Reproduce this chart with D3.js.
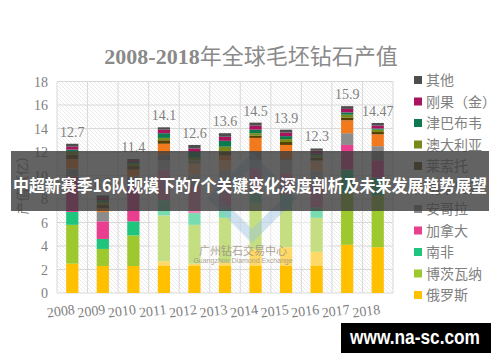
<!DOCTYPE html>
<html>
<head>
<meta charset="utf-8">
<script src="https://cdn.jsdelivr.net/npm/d3@7"></script>
<style>
body{margin:0;background:#fff;}
svg{display:block;}
</style>
</head>
<body>
<script>
// categories and labels
let years = ["2008","2009","2010","2011","2012","2013","2014","2015","2016","2017","2018"];
let totalLabels = ["12.7","8.3","11.4","14.1","12.6","13.6","14.5","13.9","12.3","15.9","14.47"];
let yTicks = [0, 2, 4, 6, 8, 10, 12, 14, 16, 18];
let countries = ["俄罗斯","博茨瓦纳","南非","加拿大","安哥拉","纳米比亚","莱索托","澳大利亚","津巴布韦","刚果（金）","其他"];

// series values, one per country (bottom of stack first)
let russia      = [2.5, 2.3, 2.3, 2.7, 2.5, 2.6, 3.7, 3.9, 3.5, 4.1, 3.9];
let botswana    = [3.3, 1.45, 2.6, 3.9, 3.3, 3.8, 3.9, 3.2, 2.9, 4.4, 4.4];
let southAfrica = [1.1, 0.85, 1.2, 1.3, 1.0, 0.9, 1.1, 1.3, 0.9, 2.0, 1.5];
let canada      = [3.0, 1.5, 2.9, 2.6, 2.3, 2.1, 2.0, 1.8, 2.0, 2.1, 1.5];
let angola      = [0.7, 0.8, 0.9, 1.3, 1.0, 1.1, 1.3, 1.2, 1.1, 1.0, 1.2];
let namibia     = [0.8, 0.3, 0.6, 0.9, 0.9, 1.2, 1.2, 1.2, 0.8, 1.1, 1.0];
let lesotho     = [0.35, 0.3, 0.3, 0.3, 0.3, 0.35, 0.2, 0.25, 0.3, 0.24, 0.2];
let australia   = [0.3, 0.25, 0.2, 0.2, 0.2, 0.4, 0.2, 0.25, 0.2, 0.23, 0.2];
let zimbabwe    = [0.15, 0.15, 0.15, 0.4, 0.5, 0.5, 0.3, 0.25, 0.15, 0.2, 0.1];
let drc         = [0.25, 0.2, 0.15, 0.3, 0.3, 0.35, 0.35, 0.3, 0.25, 0.3, 0.25];
let other       = [0.25, 0.2, 0.1, 0.2, 0.3, 0.3, 0.25, 0.25, 0.2, 0.23, 0.22];

let seriesValues = [russia, botswana, southAfrica, canada, angola, namibia, lesotho, australia, zimbabwe, drc, other];
let colours = ["#ffc000","#9dc82e","#1fc57d","#ea3e8f","#8c8c8c","#f27a1e","#5a4000","#7a8a1a","#0c7a4e","#a8145e","#4d4d4d"];

let width = 500, height = 362;
let plotLeft = 57, plotRight = 393, plotTop = 81.5, plotBottom = 293;

let svg = d3.select("body").append("svg")
	.attr("width", width)
	.attr("height", height);

// rows for the stack
let table = years.map((yr, i) => {
	let row = {year: yr};
	countries.forEach((c, j) => row[c] = seriesValues[j][i]);
	return row;
});
let stacked = d3.stack().keys(countries)(table);

let x = d3.scaleBand().domain(years).range([plotLeft, plotRight]).paddingInner(0.6).paddingOuter(0.3);
let y = d3.scaleLinear().domain([0, 18]).range([plotBottom, plotTop]);
let colour = d3.scaleOrdinal().domain(countries).range(colours);

// hatch pattern for the plot area
let defs = svg.append("defs");
let pat = defs.append("pattern")
	.attr("id", "hatch")
	.attr("patternUnits", "userSpaceOnUse")
	.attr("width", 4).attr("height", 4);
pat.append("path")
	.attr("d", "M-1,-1 L5,5 M3,-1 L5,1 M-1,3 L1,5")
	.attr("stroke", "#e4e4e4")
	.attr("stroke-width", 0.8);

svg.append("rect")
	.attr("x", plotLeft).attr("y", plotTop)
	.attr("width", plotRight - plotLeft).attr("height", plotBottom - plotTop)
	.attr("fill", "url(#hatch)");

// grid lines
svg.append("g")
	.selectAll("line")
	.data(yTicks)
	.join("line")
	.attr("x1", plotLeft).attr("x2", plotRight)
	.attr("y1", d => y(d)).attr("y2", d => y(d))
	.attr("stroke", "#d9d9d9");

let step = x.step();
let vLines = d3.range(years.length + 1).map(i => plotLeft + i * step);
svg.append("g")
	.selectAll("line")
	.data(vLines)
	.join("line")
	.attr("x1", d => d).attr("x2", d => d)
	.attr("y1", plotTop).attr("y2", plotBottom)
	.attr("stroke", "#d9d9d9");

// title
let title = svg.append("text")
	.attr("x", 251).attr("y", 64)
	.attr("text-anchor", "middle")
	.attr("fill", "#8a8a8a")
	.attr("font-size", 22);
title.append("tspan")
	.attr("font-family", "Liberation Serif, serif")
	.attr("font-weight", "bold")
	.text("2008-2018");
title.append("tspan")
	.attr("font-family", "Noto Sans CJK SC")
	.text("年全球毛坯钻石产值");

// y tick labels
svg.append("g")
	.selectAll("text")
	.data(yTicks)
	.join("text")
	.attr("x", 48)
	.attr("y", d => y(d) + 5)
	.attr("text-anchor", "end")
	.attr("font-family", "Liberation Serif, serif")
	.attr("font-size", 14)
	.attr("fill", "#7f7f7f")
	.text(d => d);

// y axis title
svg.append("text")
	.attr("transform", "translate(27,182) rotate(-90)")
	.attr("text-anchor", "middle")
	.attr("font-family", "Noto Sans CJK SC")
	.attr("font-size", 13)
	.attr("fill", "#7f7f7f")
	.text("产值（亿）");

// x tick labels, slightly tilted
svg.append("g")
	.selectAll("text")
	.data(years)
	.join("text")
	.attr("transform", d => `translate(${x(d) + x.bandwidth() / 2 + 3},314) rotate(-7)`)
	.attr("text-anchor", "end")
	.attr("font-family", "Liberation Serif, serif")
	.attr("font-size", 14)
	.attr("fill", "#7f7f7f")
	.text(d => d);

// stacked bars
svg.append("g")
	.selectAll("g")
	.data(stacked)
	.join("g")
	.attr("fill", d => colour(d.key))
	.selectAll("rect")
	.data(d => d)
	.join("rect")
	.attr("x", d => x(d.data.year))
	.attr("y", d => y(d[1]))
	.attr("width", x.bandwidth())
	.attr("height", d => y(d[0]) - y(d[1]));

// total labels
let tops = stacked[stacked.length - 1];
svg.append("g")
	.selectAll("text")
	.data(tops)
	.join("text")
	.attr("x", d => x(d.data.year) + x.bandwidth() / 2)
	.attr("y", d => y(d[1]) - 7)
	.attr("text-anchor", "middle")
	.attr("font-family", "Liberation Serif, serif")
	.attr("font-size", 14)
	.attr("fill", "#7f7f7f")
	.text((d, i) => totalLabels[i]);

// legend (top of stack first)
let legendItems = countries.slice().reverse();
let legend = svg.append("g")
	.selectAll("g")
	.data(legendItems)
	.join("g")
	.attr("transform", (d, i) => `translate(414,${80 + i * 21.5})`);
legend.append("rect")
	.attr("x", 0).attr("y", -4)
	.attr("width", 8).attr("height", 8)
	.attr("fill", d => colour(d));
legend.append("text")
	.attr("x", 12).attr("y", 5)
	.attr("font-family", "Noto Sans CJK SC")
	.attr("font-size", 14)
	.attr("fill", "#808080")
	.text(d => d);

// faint exchange watermark over the middle of the plot
let wm = svg.append("g");
wm.append("rect")
	.attr("x", 150).attr("y", 160)
	.attr("width", 180).attr("height", 106)
	.attr("fill", "#fff")
	.attr("opacity", 0.4);
wm.append("path")
	.attr("d", "M252,160 L290,198 L252,236 L214,198 Z")
	.attr("fill", "none")
	.attr("stroke", "#9cc3e0")
	.attr("stroke-width", 10)
	.attr("opacity", 0.45);
wm.append("text")
	.attr("x", 243).attr("y", 255)
	.attr("text-anchor", "middle")
	.attr("font-family", "Noto Sans CJK SC")
	.attr("font-size", 11)
	.attr("fill", "#9a8f80")
	.attr("opacity", 0.8)
	.text("广州钻石交易中心");
wm.append("text")
	.attr("x", 243).attr("y", 263)
	.attr("text-anchor", "middle")
	.attr("font-family", "Liberation Sans, sans-serif")
	.attr("font-size", 7)
	.attr("fill", "#9a8f80")
	.attr("opacity", 0.8)
	.text("Guangzhou Diamond Exchange");

// headline banner across the chart
svg.append("rect")
	.attr("x", 11).attr("y", 151)
	.attr("width", 478).attr("height", 60)
	.attr("fill", "#3c3c3c")
	.attr("opacity", 0.8);
svg.append("text")
	.attr("x", 250).attr("y", 192)
	.attr("text-anchor", "middle")
	.attr("font-family", "Noto Sans CJK SC")
	.attr("font-weight", "bold")
	.attr("font-size", 17)
	.attr("fill", "#fff")
	.attr("textLength", 474)
	.attr("lengthAdjust", "spacingAndGlyphs")
	.text("中超新赛季16队规模下的7个关键变化深度剖析及未来发展趋势展望");

// site stamp
svg.append("rect")
	.attr("x", 341).attr("y", 323)
	.attr("width", 150).attr("height", 30)
	.attr("fill", "#000");
svg.append("text")
	.attr("x", 415).attr("y", 344)
	.attr("text-anchor", "middle")
	.attr("font-family", "Liberation Sans, sans-serif")
	.attr("font-weight", "bold")
	.attr("font-size", 21)
	.attr("fill", "#fff")
	.attr("textLength", 130)
	.attr("lengthAdjust", "spacingAndGlyphs")
	.text("www.na-sc.com");
</script>
</body>
</html>
